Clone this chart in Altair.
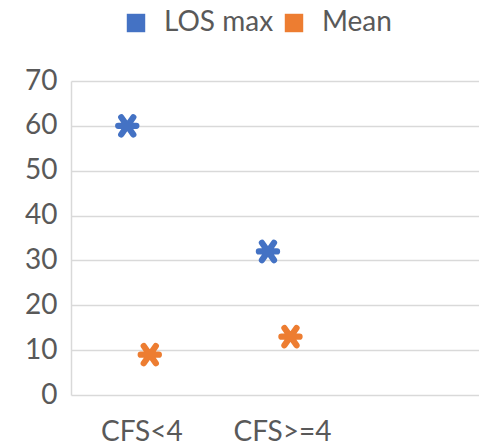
import altair as alt
import pandas as pd

categories = ["CFS<4", "CFS>=4"]
series_names = ["LOS max", "Mean"]
los_max = [60, 32]
mean = [9, 13]
colors = ["#4472C4", "#ED7D31"]
y_ticks = [0, 10, 20, 30, 40, 50, 60, 70]

rows = []
for i, cat in enumerate(categories):
    rows.append({"category": cat, "idx": i + 1, "series": series_names[0], "value": los_max[i]})
    rows.append({"category": cat, "idx": i + 1, "series": series_names[1], "value": mean[i]})
df = pd.DataFrame(rows)

label_expr = " : ".join(
    [f"datum.value == {i + 1} ? '{c}'" for i, c in enumerate(categories)]
) + " : ''"

font = "Lato"
text_color = "#595959"
grid_color = "#D9D9D9"

star = "M-0.7,-1L0.7,1M-0.7,1L0.7,-1M-1.05,0L1.05,0"

color_scale = alt.Scale(domain=series_names, range=colors)

chart = (
    alt.Chart(df)
    .transform_calculate(
        xpos="datum.idx + (datum.series == 'LOS max' ? -0.1 : 0.06)"
    )
    .mark_point(shape=star, size=300, filled=True, strokeWidth=6.2, strokeCap="round", opacity=1)
    .encode(
        x=alt.X(
            "xpos:Q",
            scale=alt.Scale(domain=[0.5, 3.4], nice=False, zero=False),
            axis=alt.Axis(
                values=[1, 2],
                labelExpr=label_expr,
                title=None,
                grid=False,
                ticks=False,
                domain=False,
                labelPadding=23,
                labelFontSize=28,
            ),
        ),
        y=alt.Y(
            "value:Q",
            scale=alt.Scale(domain=[0, 70], nice=False),
            axis=alt.Axis(
                values=y_ticks,
                title=None,
                ticks=False,
                labelPadding=14,
                labelFontSize=28,
            ),
        ),
        fill=alt.Fill(
            "series:N",
            scale=color_scale,
            legend=alt.Legend(
                title=None,
                orient="none",
                legendX=51,
                legendY=-72,
                direction="horizontal",
                symbolType="square",
                symbolSize=340,
                symbolStrokeWidth=0,
                labelOffset=14,
                columnPadding=6,
                labelFontSize=28,
                labelFont=font,
                labelColor=text_color,
            ),
        ),
        stroke=alt.Stroke("series:N", scale=color_scale, legend=None),
    )
    .properties(
        width=408,
        height=314,
        autosize=alt.AutoSizeParams(type="none"),
        padding={"left": 63, "top": 73, "right": 0, "bottom": 52},
    )
    .configure_view(stroke=None)
    .configure_axis(
        labelFont=font,
        labelColor=text_color,
        gridColor=grid_color,
        gridWidth=1.5,
        domainColor=grid_color,
        domainWidth=1.5,
    )
)

chart.save("out.html", embed_options={"renderer": "svg", "actions": False})
